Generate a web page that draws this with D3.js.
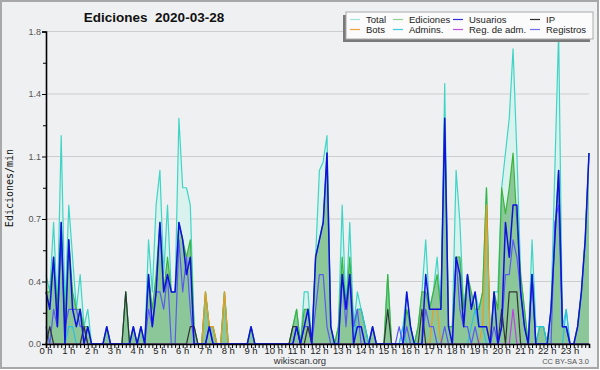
<!DOCTYPE html>
<html>
<head>
<meta charset="utf-8">
<script src="https://cdn.jsdelivr.net/npm/d3@7"></script>
<style>
  body { margin: 0; background: #fff; }
  svg { display: block; font-family: "Liberation Sans", Arial, sans-serif; }
</style>
</head>
<body>
<div id="chart"></div>
<script>
const width = 600
const height = 370
const plotLeft = 46, plotRight = 589, plotTop = 31.5, plotBottom = 344

// edits per minute, one value every 10 minutes (144 points)
const total = [
  0.4,0.3,0.7,0.2,1.2,0.2, 0.8,0.5,0.2,0.4,0.1,0.2, 0,0,0,0,0.1,0, 0,0,0,0.3,0,0.1,
  0,0.1,0,0.6,0.3,0.8, 1.0,0.4,0.8,0.3,0.3,1.3, 0.9,0.9,0.8,0.1,0,0, 0.3,0.1,0.1,0,0,0.3,
  0,0,0,0,0,0, 0.1,0,0,0,0,0, 0,0,0,0,0,0.1, 0.2,0,0.3,0.3,0,0.5,
  1.0,1.05,1.2,0.1,0,0.1, 0.8,0.2,0.7,0.1,0.3,0.2, 0.1,0,0.1,0,0,0, 0.4,0,0,0,0.1,0.3,
  0.1,0,0.1,0.3,0.6,0.2, 0.3,0.5,0.2,1.5,0.1,0.1, 1.0,0.7,0.2,0.4,0.2,0.3, 0.2,0.3,0.9,0,0.3,0.3,
  0.9,1.1,1.3,1.7,1.1,0.4, 0.2,0,0.6,0.1,0.1,0.1, 0,0.2,1.0,1.8,0.1,0.2, 0,0,0.1,0.3,0.6,1.1
]
const ediciones = [
  0.3,0.3,0.5,0.2,0.7,0.1, 0.6,0.3,0.2,0.2,0.1,0.1, 0,0,0,0,0.1,0, 0,0,0,0.3,0,0.1,
  0,0.1,0,0.4,0.2,0.4, 0.7,0.3,0.5,0.3,0.3,0.7, 0.6,0.5,0.6,0.1,0,0, 0.3,0.1,0.1,0,0,0.3,
  0,0,0,0,0,0, 0.1,0,0,0,0,0, 0,0,0,0,0,0.1, 0.2,0,0.2,0.2,0,0.5,
  0.6,0.7,1.1,0.1,0,0.1, 0.5,0.2,0.5,0.1,0.2,0.2, 0.1,0,0.1,0,0,0, 0.4,0,0,0,0,0.2,
  0.1,0,0.1,0.3,0.3,0.2, 0.3,0.4,0.2,1.3,0.1,0.1, 0.5,0.5,0.2,0.4,0.3,0.2, 0.2,0.3,0.9,0,0.3,0.2,
  0.9,0.75,0.9,1.1,0.7,0.4, 0.2,0,0.4,0,0.1,0.1, 0,0.2,0.6,1.0,0.1,0.1, 0,0,0.1,0.3,0.6,1.1
]
const usuarios = [
  0.3,0.2,0.5,0.1,0.7,0, 0.6,0.2,0.1,0.2,0,0.1, 0,0,0,0,0.1,0, 0,0,0,0,0,0.1,
  0,0.1,0,0.4,0.1,0.3, 0.7,0.3,0.4,0.3,0.3,0.7, 0.6,0.4,0.5,0,0,0, 0,0.1,0,0,0,0,
  0,0,0,0,0,0, 0.1,0,0,0,0,0, 0,0,0,0,0,0, 0.1,0,0.1,0.2,0,0.5,
  0.6,0.7,1.1,0.1,0,0, 0.4,0.2,0.4,0,0.1,0.1, 0,0,0.1,0,0,0, 0,0,0,0,0,0.3,
  0.1,0,0,0,0.4,0.2, 0.2,0.2,0.2,1.3,0.1,0, 0.5,0.4,0.1,0.4,0.2,0.3, 0.1,0.1,0.1,0,0.3,0,
  0.1,0.7,0.5,0.8,0.8,0.3, 0.1,0,0.4,0,0,0, 0,0.2,0.6,1.0,0.1,0.1, 0,0,0.1,0.3,0.6,1.1
]
const ip = [
  0,0.1,0,0,0,0, 0,0,0,0,0.1,0, 0,0,0,0,0,0, 0,0,0,0.3,0,0,
  0,0,0,0,0,0, 0,0,0,0,0,0, 0,0,0.1,0.1,0,0, 0,0,0,0,0,0,
  0,0,0,0,0,0, 0,0,0,0,0,0, 0,0,0,0,0,0.1, 0.1,0,0,0.1,0,0,
  0,0,0,0,0,0, 0,0,0,0,0,0, 0,0,0,0,0,0, 0.2,0,0,0,0,0,
  0,0,0,0.2,0,0, 0,0,0,0,0,0, 0,0,0,0,0,0, 0,0,0,0,0,0,
  0.2,0,0.3,0.3,0.3,0, 0,0,0,0,0,0, 0,0,0,0,0,0, 0,0,0,0,0,0
]
const bots = [
  0,0,0,0,0,0, 0,0,0,0,0,0, 0,0,0,0,0,0, 0,0,0,0,0,0,
  0,0,0,0,0,0, 0,0,0,0,0,0, 0,0,0,0,0,0, 0.3,0.1,0.1,0,0,0.3,
  0,0,0,0,0,0, 0,0,0,0,0,0, 0,0,0,0,0,0, 0,0,0,0,0,0,
  0,0,0,0,0,0, 0,0,0,0,0,0, 0,0,0,0,0,0, 0,0,0,0,0,0,
  0,0,0,0,0,0, 0.2,0.2,0,0,0,0, 0,0,0,0,0,0, 0,0.1,0.8,0,0,0,
  0,0,0,0,0,0, 0,0,0,0,0,0, 0,0,0,0,0,0, 0,0,0,0,0,0
]
const admins = [
  0,0,0,0,0,0, 0.1,0.1,0,0,0,0, 0,0,0,0,0,0, 0,0,0,0,0,0,
  0,0,0,0,0,0, 0,0,0,0,0,0, 0,0,0,0,0,0, 0,0,0,0,0,0,
  0,0,0,0,0,0, 0,0,0,0,0,0, 0,0,0,0,0,0, 0,0,0,0,0,0,
  0,0,0,0,0,0, 0,0,0,0,0.2,0.2, 0.1,0,0,0,0,0, 0,0,0,0,0.1,0,
  0,0,0,0,0,0, 0,0,0,0,0,0, 0,0,0,0,0.1,0.2, 0.1,0.1,0,0,0,0,
  0,0,0,0,0,0, 0,0,0,0,0.1,0.1, 0,0,0,0,0,0.2, 0,0,0,0,0,0
]
const regAdm = [
  0,0,0,0,0,0, 0,0,0,0,0,0, 0,0,0,0,0,0, 0,0,0,0,0,0,
  0,0,0,0,0,0, 0,0,0,0,0,0, 0,0,0,0,0,0, 0,0,0,0,0,0,
  0,0,0,0,0,0, 0,0,0,0,0,0, 0,0,0,0,0,0, 0,0,0,0,0,0,
  0,0,0,0,0,0, 0,0,0,0,0,0, 0,0,0,0,0,0, 0,0,0,0,0,0,
  0,0,0,0,0,0, 0,0,0,0,0,0, 0,0,0,0,0,0, 0,0,0,0,0,0,
  0,0,0,0.2,0,0, 0,0,0,0,0,0, 0,0,0,0,0,0, 0,0,0,0,0,0
]
const registros = [
  0.1,0,0.2,0.1,0.6,0.1, 0.2,0.2,0.2,0.1,0.1,0, 0,0,0,0,0,0, 0,0,0,0,0,0,
  0,0,0,0.2,0.1,0.3, 0.3,0.2,0.4,0,0,0.6, 0.3,0.5,0.2,0,0,0, 0,0.1,0,0,0,0,
  0,0,0,0,0,0, 0,0,0,0,0,0, 0,0,0,0,0,0, 0.1,0,0.1,0.1,0,0.2,
  0.4,0.4,0.1,0,0,0, 0.4,0.1,0.4,0.1,0.2,0, 0,0,0,0,0,0, 0,0,0,0.1,0,0.1,
  0,0,0,0,0.2,0.1, 0.1,0,0,0.1,0,0, 0.5,0.2,0.1,0.1,0,0.1, 0,0,0,0,0.1,0,
  0.1,0.4,0.4,0.6,0.5,0.3, 0.1,0,0.4,0,0,0, 0,0,0.7,0.8,0.1,0.1, 0,0,0,0,0,0
]

const yTicks = [0, 0.36, 0.72, 1.08, 1.44, 1.8]
const yMinor = [0.18, 0.54, 0.9, 1.26, 1.62]
const hourLabels = ["0 h","1 h","2 h","3 h","4 h","5 h","6 h","7 h","8 h","9 h","10 h","11 h",
  "12 h","13 h","14 h","15 h","16 h","17 h","18 h","19 h","20 h","21 h","22 h","23 h"]

const legendItems = [
  { name: "Total", color: "#9fe3da" },
  { name: "Ediciones", color: "#8fd08f" },
  { name: "Usuarios", color: "#3030e0" },
  { name: "IP", color: "#303030" },
  { name: "Bots", color: "#f0a040" },
  { name: "Admins.", color: "#40c8e0" },
  { name: "Reg. de adm.", color: "#c050e0" },
  { name: "Registros", color: "#7070f0" }
]

const svg = d3.select('#chart')
  .append('svg')
  .attr('width', width)
  .attr('height', height)

svg.append('rect')
  .attr('x', 1).attr('y', 1)
  .attr('width', width - 3).attr('height', height - 3)
  .attr('fill', '#eff0f2')
  .attr('stroke', '#a8a8a8')
  .attr('stroke-width', 2)

const x = d3.scaleLinear().domain([0, 143]).range([plotLeft, plotRight])
const y = d3.scaleLinear().domain([0, 1.8]).range([plotBottom, plotTop])

// grid
svg.selectAll('.grid')
  .data(yTicks.slice(1))
  .enter()
  .append('line')
  .attr('x1', plotLeft).attr('x2', plotRight)
  .attr('y1', d => y(d)).attr('y2', d => y(d))
  .attr('stroke', '#cdcdcd')

const area = d3.area().x((d, i) => x(i)).y0(y(0)).y1(d => y(d))
const line = d3.line().x((d, i) => x(i)).y(d => y(d))

svg.append('path').datum(total).attr('d', area)
  .attr('fill', '#d9f2ee')
svg.append('path').datum(ediciones).attr('d', area)
  .attr('fill', '#8cc79a')

const series = [
  { data: total, color: '#3fd5c6', w: 1.2 },
  { data: ediciones, color: '#3cb43c', w: 1.2 },
  { data: bots, color: '#f09a20', w: 1.2 },
  { data: admins, color: '#2cc0e0', w: 1.2 },
  { data: regAdm, color: '#c040e0', w: 1.2 },
  { data: registros, color: '#5a5af0', w: 1.2 },
  { data: ip, color: '#333333', w: 1.2 },
  { data: usuarios, color: '#1010e0', w: 1.5 }
]
series.forEach(s => {
  svg.append('path').datum(s.data).attr('d', line)
    .attr('fill', 'none')
    .attr('stroke', s.color)
    .attr('stroke-width', s.w)
    .attr('stroke-linejoin', 'round')
})

// axes
const yAxis = svg.append('g')
  .attr('transform', `translate(${plotLeft},0)`)
  .call(d3.axisLeft(y).tickValues(yTicks).tickFormat(d3.format('.1f')).tickSize(4).tickPadding(1))
yAxis.selectAll('text').attr('font-size', 9).attr('fill', '#555')
  .attr('font-family', '"Liberation Sans", Arial, sans-serif')
svg.append('g')
  .attr('transform', `translate(${plotLeft},0)`)
  .call(d3.axisLeft(y).tickValues(yMinor).tickFormat('').tickSize(3))
  .select('.domain').remove()

svg.append('g')
  .attr('transform', `translate(0,${plotBottom})`)
  .call(d3.axisBottom(x).tickValues(d3.range(144)).tickFormat('').tickSize(4))
svg.selectAll('.domain').attr('stroke', '#000').attr('stroke-width', 1.6)

svg.selectAll('.hour')
  .data(hourLabels)
  .enter()
  .append('text')
  .attr('x', (d, i) => x(i * 6))
  .attr('y', 354)
  .attr('text-anchor', 'middle')
  .attr('font-size', 9.5)
  .attr('fill', '#222')
  .text(d => d)

svg.append('text')
  .attr('transform', 'translate(13,188) rotate(-90)')
  .attr('text-anchor', 'middle')
  .attr('font-family', '"DejaVu Sans Mono", monospace')
  .attr('font-size', 10)
  .attr('fill', '#111')
  .text('Ediciones/min')

svg.append('text')
  .attr('x', 154).attr('y', 22)
  .attr('text-anchor', 'middle')
  .attr('font-size', 13.5)
  .attr('font-weight', 'bold')
  .attr('fill', '#111')
  .style('white-space', 'pre')
  .text('Ediciones  2020-03-28')

svg.append('text')
  .attr('x', 300).attr('y', 364)
  .attr('text-anchor', 'middle')
  .attr('font-size', 9.5)
  .attr('fill', '#333')
  .text('wikiscan.org')

svg.append('text')
  .attr('x', 589).attr('y', 364)
  .attr('text-anchor', 'end')
  .attr('font-size', 7.5)
  .attr('fill', '#555')
  .text('CC BY-SA 3.0')

// legend
const legend = svg.append('g')
legend.append('rect')
  .attr('x', 343).attr('y', 15).attr('width', 247).attr('height', 27)
  .attr('fill', '#7a7a7a')
legend.append('rect')
  .attr('x', 346).attr('y', 12).attr('width', 247).attr('height', 27)
  .attr('fill', '#fbfbfb').attr('stroke', '#aaa')
const colX = [350, 393, 453, 530]
legendItems.forEach((d, i) => {
  const cx = colX[i % 4]
  const cy = i < 4 ? 19.5 : 29.5
  legend.append('line')
    .attr('x1', cx).attr('x2', cx + 10)
    .attr('y1', cy).attr('y2', cy)
    .attr('stroke', d.color).attr('stroke-width', 1.2)
  legend.append('text')
    .attr('x', cx + 16).attr('y', cy + 3.5)
    .attr('font-size', 9.5)
    .attr('fill', '#222')
    .text(d.name)
})
</script>
</body>
</html>
